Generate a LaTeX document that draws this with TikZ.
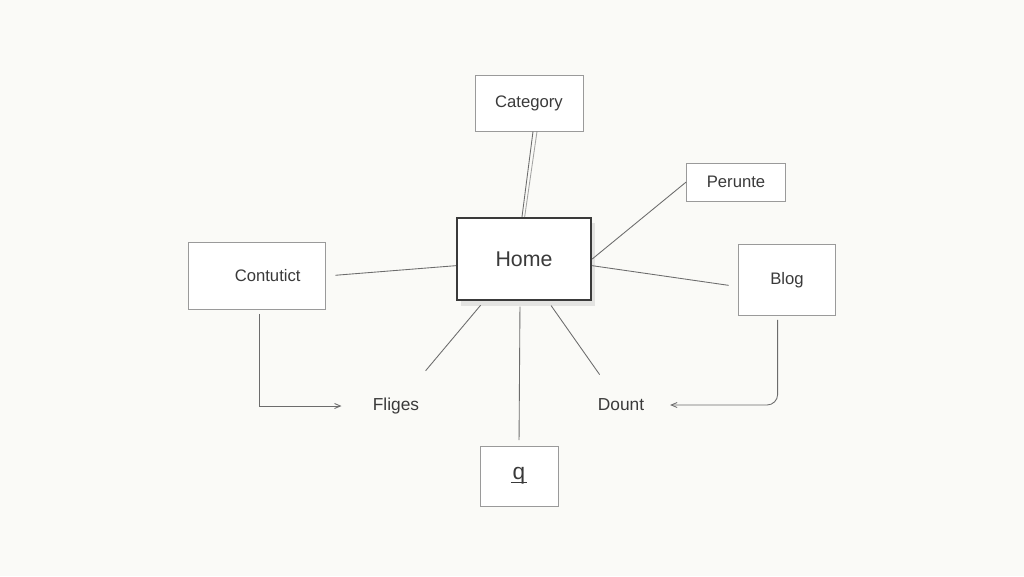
\documentclass[tikz,border=0pt]{standalone}
\usepackage{fontspec}
\setmainfont{Liberation Sans}
\usetikzlibrary{arrows,shadows}
\usetikzlibrary{positioning}
\definecolor{paper}{HTML}{FAFAF7}
\definecolor{pencil}{HTML}{9A9A9A}
\definecolor{ink}{HTML}{3A3A3A}
\tikzstyle{sheet}=[x=0.75pt,y=-0.75pt]
\tikzstyle{Abox}=[draw=pencil,line width=0.75pt,fill=white,inner sep=0,text=ink,
                font=\fontsize{12.5}{15}\selectfont]
\tikzstyle{Ahome}=[draw=ink,line width=1.3pt,fill=white,inner sep=0,text=ink,
                drop shadow={opacity=0.18,shadow xshift=3pt,shadow yshift=-4pt},
                font=\fontsize{16}{19}\selectfont]
\tikzstyle{Aword}=[text=ink,font=\fontsize{13}{15}\selectfont]
\tikzstyle{link}=[draw=pencil!70!black,line width=0.65pt]
\tikzstyle{hit}=[link,->,>=angle 45]

\begin{document}
\begin{tikzpicture}[sheet]
  \fill[paper] (0,0) rectangle (1024,576);
  \useasboundingbox (0,0) rectangle (1024,576);
  % pages
  \node[Ahome,minimum width=101pt,minimum height=62pt] (home) at (524,259) {Home};
  \node[Abox,minimum width=81pt,minimum height=42pt] (cat) at (529,103) {Category\hspace{13pt}};
  \node[Abox,minimum width=74pt,minimum height=28.5pt] (perunte) at (736,182) {Perunte};
  \node[Abox,minimum width=103pt,minimum height=50pt] (cont) at (257,276) {\hspace{16pt}Contutict};
  \node[Abox,minimum width=73pt,minimum height=53pt] (blog) at (787,280) {Blog\hspace{13pt}};
  \node[Abox,minimum width=58.5pt,minimum height=45pt] (q) at (519,476)
       {\fontsize{17}{20}\selectfont\rlap{\kern-0.08em\rule[-0.14em]{0.7em}{0.8pt}}q};
  \node[Aword] (fliges) at (396,406) {Fliges};
  \node[Aword] (dount) at (621,405) {Dount};
  % links
  \draw[link] ([xshift=3pt]cat.south) -- ([xshift=-1.5pt]home.north);
  \draw[link,opacity=0.6] ([xshift=6pt]cat.south) -- ([xshift=0.5pt]home.north);
  \draw[link] (home.east) -- (perunte.west);
  \draw[link,shorten <=7pt] (cont.east) -- ([yshift=-5pt]home.west);
  \draw[link,shorten >=7pt] ([yshift=-5pt]home.east) -- ([yshift=-5pt]blog.west);
  \draw[link,shorten <=4pt,shorten >=22pt] ([xshift=-30pt]home.south) -- (fliges);
  \draw[link,shorten <=4pt,shorten >=18pt] ([xshift=18pt]home.south) -- (dount);
  \draw[link,shorten <=4pt,shorten >=4pt] ([xshift=-3pt]home.south) -- (q.north);
  \draw[hit,shorten <=3pt,shorten >=20pt] ([xshift=1.5pt]cont.south) |- (fliges.west);
  \draw[hit,rounded corners=8pt,shorten <=3pt,shorten >=16pt] ([xshift=-7pt]blog.south) |- (dount.east);
\end{tikzpicture}
\end{document}
